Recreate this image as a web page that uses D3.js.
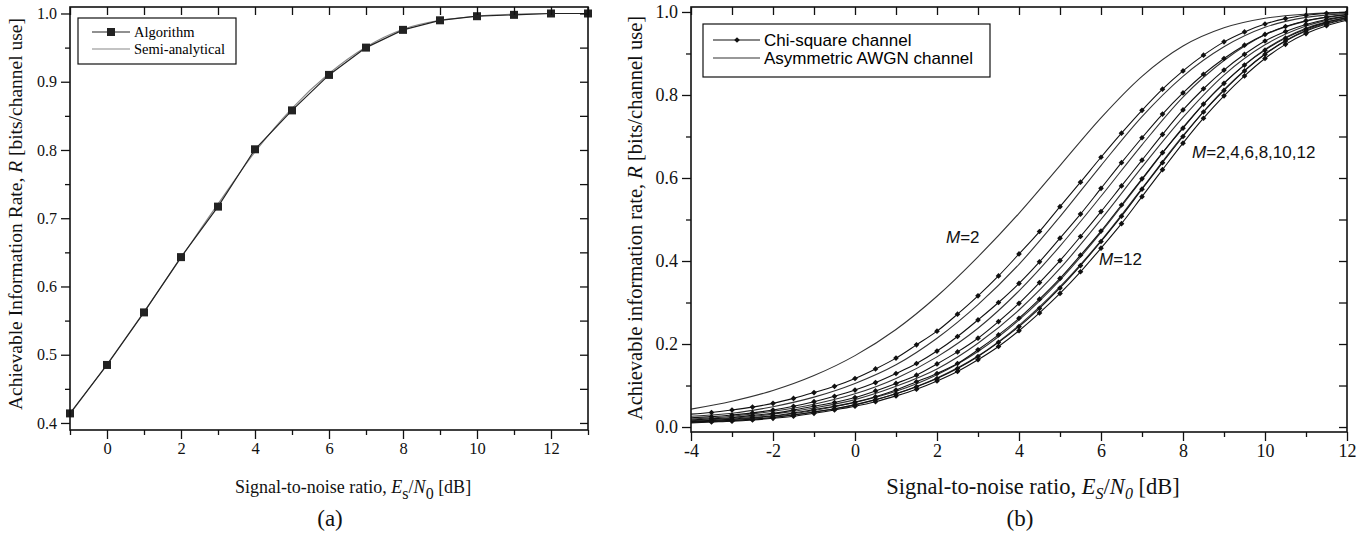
<!DOCTYPE html>
<html><head><meta charset="utf-8">
<script src="https://cdn.jsdelivr.net/npm/d3@7"></script>
<style>
body{margin:0;background:#fff}
</style>
</head><body>
<svg id="chart" width="1368" height="533"></svg>
<script>
// ---------- Panel (a) data ----------
const snrA = [-1,0,1,2,3,4,5,6,7,8,9,10,11,12,13];
const algorithm = [0.414,0.485,0.562,0.643,0.717,0.801,0.858,0.910,0.950,0.976,0.990,0.996,0.998,1.000,1.000];
const semiAnalytical = [0.413,0.486,0.563,0.642,0.721,0.797,0.861,0.912,0.951,0.977,0.990,0.996,0.999,1.000,1.000];
const xTicksA = [0,2,4,6,8,10,12];
const xMinorA = [-1,1,3,5,7,9,11,13];
const yTicksA = [0.4,0.5,0.6,0.7,0.8,0.9,1.0];
const yMinorA = [0.45,0.55,0.65,0.75,0.85,0.95];

// ---------- Panel (b) data ----------
const snrChi = [-4,-3.5,-3,-2.5,-2,-1.5,-1,-0.5,0,0.5,1,1.5,2,2.5,3,3.5,4,4.5,5,5.5,6,6.5,7,7.5,8,8.5,9,9.5,10,10.5,11,11.5,12];
const chiM2  = [0.031,0.035,0.041,0.048,0.057,0.069,0.083,0.098,0.117,0.140,0.166,0.198,0.231,0.272,0.316,0.364,0.417,0.471,0.531,0.590,0.650,0.708,0.763,0.814,0.858,0.896,0.928,0.952,0.971,0.984,0.992,0.997,0.999];
const chiM4  = [0.022,0.025,0.029,0.034,0.041,0.050,0.061,0.074,0.089,0.107,0.129,0.153,0.183,0.218,0.258,0.300,0.346,0.398,0.455,0.513,0.575,0.637,0.697,0.754,0.805,0.850,0.888,0.920,0.946,0.965,0.979,0.988,0.994];
const chiM6  = [0.017,0.020,0.023,0.028,0.033,0.041,0.050,0.059,0.071,0.087,0.105,0.125,0.152,0.181,0.214,0.254,0.298,0.348,0.401,0.459,0.519,0.581,0.643,0.705,0.764,0.815,0.860,0.898,0.930,0.953,0.970,0.982,0.990];
const chiM8  = [0.014,0.016,0.019,0.023,0.027,0.034,0.042,0.050,0.060,0.073,0.089,0.109,0.129,0.153,0.186,0.222,0.262,0.308,0.358,0.414,0.472,0.535,0.598,0.661,0.720,0.778,0.828,0.872,0.908,0.937,0.959,0.975,0.986];
const chiM10 = [0.012,0.014,0.016,0.019,0.023,0.029,0.036,0.044,0.054,0.066,0.080,0.097,0.117,0.141,0.170,0.204,0.242,0.286,0.335,0.389,0.447,0.508,0.573,0.637,0.700,0.759,0.811,0.858,0.898,0.930,0.954,0.971,0.983];
const chiM12 = [0.010,0.012,0.014,0.017,0.021,0.026,0.033,0.041,0.050,0.061,0.075,0.091,0.111,0.134,0.162,0.194,0.232,0.275,0.322,0.374,0.431,0.490,0.555,0.620,0.684,0.744,0.798,0.846,0.888,0.922,0.948,0.967,0.980];

const snrAwgn = [-4,-3,-2,-1,0,1,2,3,4,5,6,7,8,9,10,11,12];
const awgnM2  = [0.043,0.062,0.088,0.124,0.172,0.235,0.315,0.410,0.515,0.630,0.745,0.845,0.918,0.962,0.985,0.995,0.999];
const awgnM4  = [0.026,0.033,0.049,0.072,0.105,0.150,0.214,0.295,0.392,0.507,0.630,0.748,0.845,0.916,0.963,0.987,0.996];
const awgnM6  = [0.019,0.026,0.038,0.055,0.080,0.117,0.169,0.238,0.328,0.436,0.556,0.680,0.795,0.883,0.945,0.978,0.993];
const awgnM8  = [0.015,0.021,0.031,0.046,0.066,0.098,0.140,0.202,0.282,0.382,0.500,0.626,0.746,0.848,0.921,0.966,0.990];
const awgnM10 = [0.013,0.018,0.026,0.040,0.059,0.086,0.126,0.182,0.258,0.354,0.469,0.596,0.722,0.829,0.910,0.961,0.987];
const awgnM12 = [0.011,0.015,0.023,0.036,0.053,0.080,0.118,0.171,0.245,0.338,0.449,0.575,0.702,0.813,0.899,0.956,0.985];

const xTicksB = [-4,-2,0,2,4,6,8,10,12];
const xMinorB = [-3,-1,1,3,5,7,9,11];
const yTicksB = [0,0.2,0.4,0.6,0.8,1.0];
const yMinorB = [0.1,0.3,0.5,0.7,0.9];

const chiSeries = [chiM2,chiM4,chiM6,chiM8,chiM10,chiM12];
const awgnSeries = [awgnM2,awgnM4,awgnM6,awgnM8,awgnM10,awgnM12];

// ---------- drawing ----------
const svg = d3.select("#chart");
const SERIF = '"Liberation Serif","Times New Roman",serif';
const SANS = '"Liberation Sans",Arial,sans-serif';
const intFmt = d => String(d);            // plain hyphen for negatives, as in the original
const decFmt = d => d.toFixed(1);

function frameAxes(g, x, y, o) {
  const [x0,x1] = x.range(), [y1,y0] = y.range();
  g.append("g").attr("transform",`translate(0,${y1})`)
    .call(d3.axisBottom(x).tickValues(o.xT).tickSize(9).tickPadding(3).tickFormat(intFmt))
    .call(s=>{s.select(".domain").remove(); s.selectAll("text").attr("font-family",SERIF).attr("font-size",o.xFont).attr("fill","#111");});
  g.append("g").attr("transform",`translate(0,${y1})`)
    .call(d3.axisBottom(x).tickValues(o.xM).tickSize(5).tickFormat(""))
    .call(s=>s.select(".domain").remove());
  g.append("g").attr("transform",`translate(${x0},0)`)
    .call(d3.axisLeft(y).tickValues(o.yT).tickSize(9).tickPadding(4).tickFormat(decFmt))
    .call(s=>{s.select(".domain").remove(); s.selectAll("text").attr("font-family",SERIF).attr("font-size",o.yFont).attr("fill","#111");});
  g.append("g").attr("transform",`translate(${x0},0)`)
    .call(d3.axisLeft(y).tickValues(o.yM).tickSize(5).tickFormat(""))
    .call(s=>s.select(".domain").remove());
  g.append("g").attr("transform",`translate(0,${y0})`)
    .call(d3.axisTop(x).tickValues(o.xT.concat(o.xM)).tickSize(-8).tickFormat(""))
    .call(s=>s.select(".domain").remove());
  g.append("g").attr("transform",`translate(${x1},0)`)
    .call(d3.axisRight(y).tickValues(o.yT.concat(o.yM)).tickSize(-8).tickFormat(""))
    .call(s=>s.select(".domain").remove());
  g.selectAll(".tick line").attr("stroke","#111").attr("stroke-width",1.3);
  g.append("rect").attr("x",x0).attr("y",y0).attr("width",x1-x0).attr("height",y1-y0)
    .attr("fill","none").attr("stroke","#111").attr("stroke-width",1.6);
}

// ===== Panel (a) =====
const xA = d3.scaleLinear().domain([-1,13]).range([70,588]);
const yA = d3.scaleLinear().domain([0.3897,1.0095]).range([430,7]);
const gA = svg.append("g");
const lineA = d3.line().curve(d3.curveMonotoneX);
gA.append("path").attr("d", lineA(snrA.map((d,i)=>[xA(d),yA(semiAnalytical[i])])))
  .attr("fill","none").attr("stroke","#888").attr("stroke-width",1.1);
gA.append("path").attr("d", d3.line()(snrA.map((d,i)=>[xA(d),yA(algorithm[i])])))
  .attr("fill","none").attr("stroke","#222").attr("stroke-width",1.2);
gA.selectAll("rect.pt").data(snrA).join("rect").attr("class","pt")
  .attr("x",d=>xA(d)-4).attr("y",(d,i)=>yA(algorithm[i])-4).attr("width",8).attr("height",8)
  .attr("fill","#222");
frameAxes(gA, xA, yA, {xT:xTicksA, xM:xMinorA, yT:yTicksA, yM:yMinorA, xFont:16.5, yFont:16});

// legend (a)
const lgA = gA.append("g");
lgA.append("rect").attr("x",78).attr("y",18).attr("width",158).attr("height",46)
  .attr("fill","#fff").attr("stroke","#111").attr("stroke-width",1.2);
lgA.append("line").attr("x1",92).attr("x2",130).attr("y1",32).attr("y2",32).attr("stroke","#222").attr("stroke-width",1.2);
lgA.append("rect").attr("x",107).attr("y",28).attr("width",8).attr("height",8).attr("fill","#222");
lgA.append("line").attr("x1",92).attr("x2",130).attr("y1",49).attr("y2",49).attr("stroke","#888").attr("stroke-width",1.1);
lgA.append("text").attr("x",134).attr("y",37).attr("font-family",SERIF).attr("font-size",14.5).text("Algorithm");
lgA.append("text").attr("x",134).attr("y",54).attr("font-family",SERIF).attr("font-size",14.5).text("Semi-analytical");

// titles (a)
const txA = svg.append("text").attr("x",353).attr("y",493).attr("text-anchor","middle")
  .attr("font-family",SERIF).attr("font-size",18).attr("fill","#111");
txA.append("tspan").text("Signal-to-noise ratio, ");
txA.append("tspan").attr("font-style","italic").text("E");
txA.append("tspan").attr("dy",6).attr("font-size",16).text("s");
txA.append("tspan").attr("dy",-6).text("/");
txA.append("tspan").attr("font-style","italic").text("N");
txA.append("tspan").attr("dy",6).attr("font-size",16).text("0");
txA.append("tspan").attr("dy",-6).text(" [dB]");
const tyA = svg.append("text").attr("transform","translate(22,214) rotate(-90)").attr("text-anchor","middle")
  .attr("font-family",SERIF).attr("font-size",19.5).attr("fill","#111");
tyA.append("tspan").text("Achievable Information Rate, ");
tyA.append("tspan").attr("font-style","italic").text("R");
tyA.append("tspan").text(" [bits/channel use]");
svg.append("text").attr("x",330).attr("y",526).attr("text-anchor","middle")
  .attr("font-family",SERIF).attr("font-size",23).attr("fill","#111").text("(a)");

// ===== Panel (b) =====
const xB = d3.scaleLinear().domain([-4,12]).range([691,1347]);
const yB = d3.scaleLinear().domain([-0.012,1.012]).range([432,7]);
const gB = svg.append("g");
svg.append("clipPath").attr("id","clipB").append("rect").attr("x",691).attr("y",7).attr("width",656).attr("height",425);
const plotB = gB.append("g").attr("clip-path","url(#clipB)");
const lineB = d3.line().curve(d3.curveMonotoneX);
awgnSeries.forEach(s=>{
  plotB.append("path").attr("d", lineB(snrAwgn.map((d,i)=>[xB(d),yB(s[i])])))
    .attr("fill","none").attr("stroke","#333").attr("stroke-width",1.1);
});
const diamond = d3.symbol().type(d3.symbolSquare).size(16);
chiSeries.forEach(s=>{
  plotB.append("path").attr("d", lineB(snrChi.map((d,i)=>[xB(d),yB(s[i])])))
    .attr("fill","none").attr("stroke","#111").attr("stroke-width",1.1);
  const pts = snrChi.map((d,i)=>({x:d,y:s[i]})).filter(p=>p.x>-4);
  plotB.selectAll(null).data(pts).join("path")
    .attr("d",diamond)
    .attr("transform",p=>`translate(${xB(p.x)},${yB(p.y)}) rotate(45)`)
    .attr("fill","#111");
});
frameAxes(gB, xB, yB, {xT:xTicksB, xM:xMinorB, yT:yTicksB, yM:yMinorB, xFont:18, yFont:18});

// legend (b)
const lgB = gB.append("g");
lgB.append("rect").attr("x",703).attr("y",24).attr("width",287).attr("height",53)
  .attr("fill","#fff").attr("stroke","#111").attr("stroke-width",1.2);
lgB.append("line").attr("x1",713).attr("x2",760).attr("y1",40).attr("y2",40).attr("stroke","#111").attr("stroke-width",1.1);
lgB.append("path").attr("d",diamond).attr("transform","translate(737,40) rotate(45)").attr("fill","#111");
lgB.append("line").attr("x1",713).attr("x2",760).attr("y1",58).attr("y2",58).attr("stroke","#333").attr("stroke-width",1.1);
lgB.append("text").attr("x",764).attr("y",46).attr("font-family",SANS).attr("font-size",17).text("Chi-square channel");
lgB.append("text").attr("x",764).attr("y",64).attr("font-family",SANS).attr("font-size",17).text("Asymmetric AWGN channel");

// curve annotations
function mLabel(x,y,rest){
  const t = gB.append("text").attr("x",x).attr("y",y).attr("font-family",SANS).attr("font-size",17).attr("fill","#111");
  t.append("tspan").attr("font-style","italic").text("M");
  t.append("tspan").text(rest);
}
mLabel(946,243,"=2");
mLabel(1192,158,"=2,4,6,8,10,12");
mLabel(1099,265,"=12");

// titles (b)
const txB = svg.append("text").attr("x",1033).attr("y",494).attr("text-anchor","middle")
  .attr("font-family",SERIF).attr("font-size",22.5).attr("fill","#111");
txB.append("tspan").text("Signal-to-noise ratio, ");
txB.append("tspan").attr("font-style","italic").text("E");
txB.append("tspan").attr("dy",5).attr("font-size",16).attr("font-style","italic").text("S");
txB.append("tspan").attr("dy",-5).text("/");
txB.append("tspan").attr("font-style","italic").text("N");
txB.append("tspan").attr("dy",5).attr("font-size",16).attr("font-style","italic").text("0");
txB.append("tspan").attr("dy",-5).text(" [dB]");
const tyB = svg.append("text").attr("transform","translate(642,218) rotate(-90)").attr("text-anchor","middle")
  .attr("font-family",SERIF).attr("font-size",20.5).attr("fill","#111");
tyB.append("tspan").text("Achievable information rate, ");
tyB.append("tspan").attr("font-style","italic").text("R");
tyB.append("tspan").text(" [bits/channel use]");
svg.append("text").attr("x",1020).attr("y",526).attr("text-anchor","middle")
  .attr("font-family",SERIF).attr("font-size",23).attr("fill","#111").text("(b)");
</script>
</body></html>
